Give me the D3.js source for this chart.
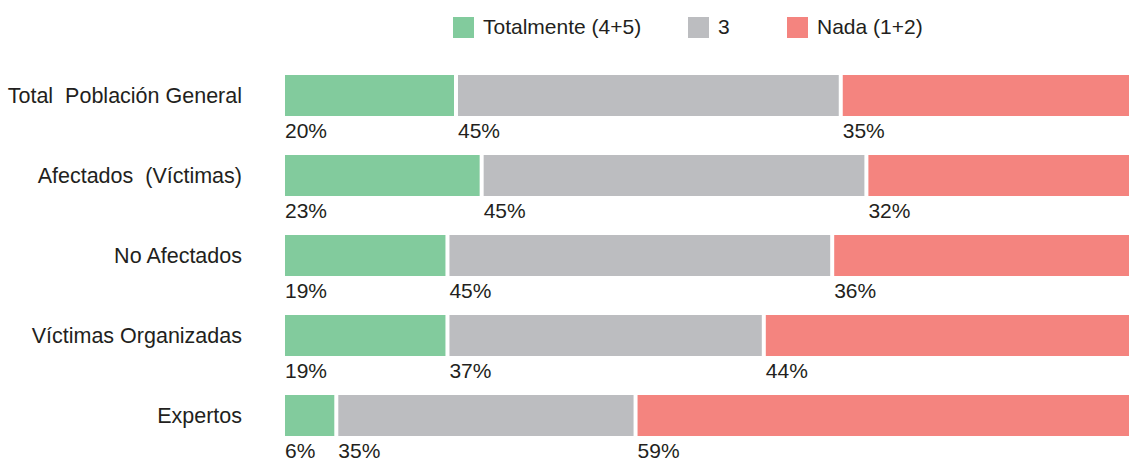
<!DOCTYPE html>
<html>
<head>
<meta charset="utf-8">
<script src="https://cdn.jsdelivr.net/npm/d3@7"></script>
<style>
  body { margin: 0; background: #fff; }
  text { font-family: "Liberation Sans", Arial, sans-serif; fill: #231f20; white-space: pre; }
</style>
</head>
<body>
<div id="chart"></div>
<script>
var categories = ["Total  Población General", "Afectados  (Víctimas)", "No Afectados", "Víctimas Organizadas", "Expertos"];
var seriesNames = ["Totalmente (4+5)", "3", "Nada (1+2)"];
var totalmente = [20, 23, 19, 19, 6];
var tres = [45, 45, 45, 37, 35];
var nada = [35, 32, 36, 44, 59];
var colors = ["#82cb9d", "#bcbdc0", "#f4847f"];

var width = 1129, height = 461;
var svg = d3.select("#chart").append("svg")
	.attr("width", width)
	.attr("height", height);

// bars run past the right edge, as in the original
var x = d3.scaleLinear().domain([0, 100]).range([285, 1140]);
var y = d3.scaleBand().domain(categories).range([75, 436]).paddingInner(0.4875).paddingOuter(0);

var rows = categories.map(function(c, i){
	var vals = [totalmente[i], tres[i], nada[i]];
	var start = 0;
	return vals.map(function(v, j){
		var seg = {cat: c, s: j, v: v, x0: start, x1: start + v};
		start += v;
		return seg;
	});
});

var row = svg.selectAll("g.row")
	.data(rows)
	.enter().append("g")
	.attr("class", "row");

row.selectAll("rect")
	.data(function(d){ return d; })
	.enter().append("rect")
	.attr("x", function(d){ return x(d.x0) + (d.s > 0 ? 2 : 0); })
	.attr("y", function(d){ return y(d.cat); })
	.attr("width", function(d){ return x(d.x1) - x(d.x0) - (d.s > 0 ? 2 : 0) - (d.s < 2 ? 2 : 0); })
	.attr("height", y.bandwidth())
	.attr("fill", function(d){ return colors[d.s]; });

row.selectAll("text.pct")
	.data(function(d){ return d; })
	.enter().append("text")
	.attr("class", "pct")
	.attr("x", function(d){ return x(d.x0) + (d.s > 0 ? 2 : 0); })
	.attr("y", function(d){ return y(d.cat) + y.bandwidth() + 22; })
	.style("font-size", "21px")
	.text(function(d){ return d.v + "%"; });

svg.selectAll("text.cat")
	.data(categories)
	.enter().append("text")
	.attr("class", "cat")
	.attr("x", 242)
	.attr("y", function(d){ return y(d) + y.bandwidth() / 2; })
	.attr("dy", "0.35em")
	.attr("text-anchor", "end")
	.style("font-size", "21.5px")
	.text(function(d){ return d; });

// legend
var legendX = [453, 688, 787];
var legend = svg.selectAll("g.legend")
	.data(seriesNames)
	.enter().append("g")
	.attr("class", "legend")
	.attr("transform", function(d, i){ return "translate(" + legendX[i] + ",17)"; });
legend.append("rect")
	.attr("width", 21)
	.attr("height", 21)
	.attr("fill", function(d, i){ return colors[i]; });
legend.append("text")
	.attr("x", 30)
	.attr("y", 17)
	.style("font-size", "21px")
	.text(function(d){ return d; });
</script>
</body>
</html>
